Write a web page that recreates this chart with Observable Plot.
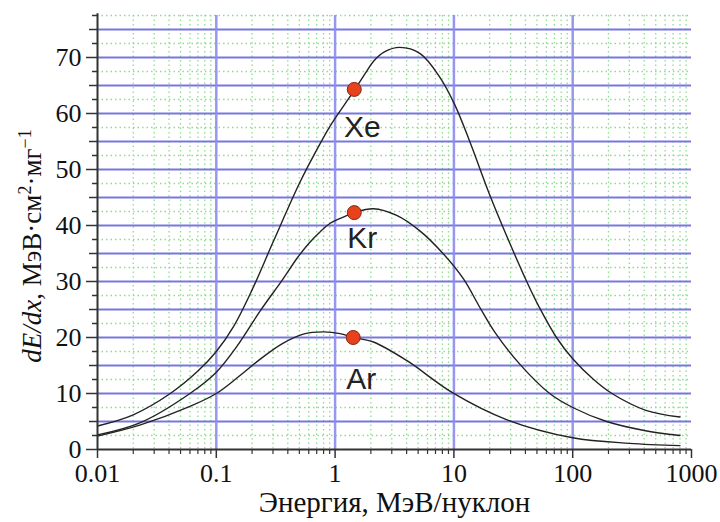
<!DOCTYPE html>
<html>
<head>
<meta charset="utf-8">
<script src="https://cdn.jsdelivr.net/npm/d3@7"></script>
<script src="https://cdn.jsdelivr.net/npm/@observablehq/plot@0.6"></script>
<style>
  html, body { margin: 0; padding: 0; background: #fff; }
</style>
</head>
<body>
<div id="chart"></div>
<script>
// ---- data ----
const ions = ["Xe", "Kr", "Ar"];

const energyXe = [0.01, 0.02, 0.041, 0.07, 0.1, 0.14, 0.2, 0.3, 0.5, 0.7, 0.91, 1.2, 1.47, 1.8, 2.1, 2.6, 3.5, 5.2, 7.6, 10.2, 13.6, 20, 28, 41, 52, 73, 100, 150, 214, 413, 800];
const dedxXe   = [4.2, 6.2, 10, 14, 17.5, 22, 28.5, 37, 47.5, 53.5, 57.8, 61.6, 64.3, 67.2, 69.3, 71, 71.8, 70.7, 66.5, 61.5, 55, 45.5, 38, 30, 25.5, 20, 16.2, 12.5, 10, 7, 5.8];

const energyKr = [0.01, 0.023, 0.06, 0.1, 0.15, 0.235, 0.36, 0.48, 0.6, 0.75, 0.91, 1.2, 1.45, 2.1, 3.3, 5.2, 8.1, 12, 16.5, 22, 36, 64, 100, 193, 400, 800];
const dedxKr   = [2.6, 4.8, 10, 13.8, 18.5, 24.8, 30.3, 34.2, 36.8, 38.9, 40.4, 41.6, 42.3, 43, 41.8, 39, 35, 30.5, 25.4, 21, 15.2, 10, 7.5, 5, 3.4, 2.5];

const energyAr = [0.01, 0.023, 0.06, 0.1, 0.15, 0.23, 0.36, 0.54, 0.8, 1.1, 1.42, 2.1, 4.0, 9.8, 28, 100, 300, 800];
const dedxAr   = [2.4, 4.4, 7.7, 10, 12.8, 16, 18.9, 20.6, 21, 20.7, 20, 19.2, 15.9, 10.1, 5.3, 2.1, 1.1, 0.7];

const markerEnergy = [1.45, 1.45, 1.42];
const markerDedx   = [64.3, 42.3, 20];

const xTickValues = [0.01, 0.1, 1, 10, 100, 1000];
const xTickLabels = ["0.01", "0.1", "1", "10", "100", "1000"];
const yTickValues = [0, 10, 20, 30, 40, 50, 60, 70];

const xTitle = "Энергия, МэВ/нуклон";
const yTitleParts = [
  {t: "dE/dx", italic: true},
  {t: ", МэВ·см"},
  {t: "2", sup: true},
  {t: "·мг"},
  {t: "−1", sup: true}
];

// ---- tables built from the arrays ----
const series = {Xe: [energyXe, dedxXe], Kr: [energyKr, dedxKr], Ar: [energyAr, dedxAr]};
const curves = ions.flatMap(ion => series[ion][0].map((E, i) => ({ion, E, v: series[ion][1][i]})));
const markers = ions.map((ion, i) => ({ion, E: markerEnergy[i], v: markerDedx[i]}));

const decades = [0.01, 0.1, 1, 10, 100];
const minorX = decades.flatMap(d => d3.range(2, 10).map(k => k * d));
const blueX = [0.1, 1, 10, 100];
const blueY = d3.range(5, 76, 5);
const greenY = d3.range(2.5, 78, 5);
const minorY5 = d3.range(5, 76, 10);
const minorY25 = d3.range(2.5, 78, 5);

const serif = "'Liberation Serif', 'Times New Roman', serif";
const sans = "'Liberation Sans', Arial, sans-serif";
const labelDy = {Xe: 48, Kr: 35, Ar: 51};

const yTitleMark = (index, scales, values, dims) => {
  const cx = 41, cy = 246;
  const t = d3.create("svg:text")
    .attr("transform", `translate(${cx},${cy}) rotate(-90)`)
    .attr("text-anchor", "middle")
    .attr("font-family", serif)
    .attr("font-size", 27)
    .attr("fill", "#111");
  for (const p of yTitleParts) {
    const s = t.append("tspan").text(p.t);
    if (p.italic) s.attr("font-style", "italic");
    if (p.sup) s.attr("font-size", 18).attr("baseline-shift", "super");
  }
  return t.node();
};

const chart = Plot.plot({
  width: 720,
  height: 522,
  marginLeft: 97,
  marginRight: 29,
  marginTop: 15,
  marginBottom: 73,
  style: {background: "#fff", fontFamily: serif, color: "#111"},
  x: {type: "log", domain: [0.01, 1000]},
  y: {domain: [0, 77.5]},
  marks: [
    // dotted green minor grid
    Plot.ruleY(greenY, {stroke: "#8fdc8f", strokeWidth: 1.3, strokeDasharray: "1.5,3"}),
    Plot.ruleX(minorX, {stroke: "#8fdc8f", strokeWidth: 1.3, strokeDasharray: "1.5,3"}),
    // blue major grid
    Plot.ruleY(blueY, {stroke: "#6868de", strokeWidth: 2, strokeOpacity: 0.9}),
    Plot.ruleX(blueX, {stroke: "#8c8cf0", strokeWidth: 2.5, strokeOpacity: 0.9}),
    // curves
    Plot.line(curves, {x: "E", y: "v", z: "ion", stroke: "#222", strokeWidth: 1.4, curve: "catmull-rom"}),
    // markers
    Plot.dot(markers, {x: "E", y: "v", r: 7, fill: "#e8421c", stroke: "#7a2a12", strokeWidth: 1}),
    ...ions.map(ion => Plot.text(markers.filter(d => d.ion === ion), {
      x: "E", y: "v", text: "ion", dx: 8, dy: labelDy[ion], lineAnchor: "bottom",
      fontFamily: sans, fontSize: 30, fill: "#222"
    })),
    // axis lines
    Plot.ruleX([0.01], {y1: 0, y2: 77.8, stroke: "#333", strokeWidth: 2}),
    Plot.ruleY([0], {stroke: "#333", strokeWidth: 2}),
    // y axis
    Plot.axisY({ticks: yTickValues, tickSize: 11, tickPadding: 5, fontSize: 26, label: null, stroke: "#333", strokeWidth: 1.5}),
    Plot.axisY({ticks: minorY5, tickSize: 8, tickFormat: () => "", label: null, stroke: "#333", strokeWidth: 1.5}),
    Plot.axisY({ticks: minorY25, tickSize: 5, tickFormat: () => "", label: null, stroke: "#333", strokeWidth: 1.5}),
    // x axis
    Plot.axisX({ticks: xTickValues, tickSize: 9, tickPadding: 5, fontSize: 26, label: null, stroke: "#333", strokeWidth: 1.5,
      tickFormat: d => xTickLabels[xTickValues.findIndex(v => Math.abs(v - d) < 1e-9)]}),
    Plot.axisX({ticks: minorX, tickSize: 5, tickFormat: () => "", label: null, stroke: "#333", strokeWidth: 1.2}),
    // titles
    Plot.text([xTitle], {frameAnchor: "bottom", dy: 62, lineAnchor: "bottom", fontSize: 29, fontFamily: serif, fill: "#111", text: d => d}),
    yTitleMark
  ]
});

document.getElementById("chart").appendChild(chart);
</script>
</body>
</html>
